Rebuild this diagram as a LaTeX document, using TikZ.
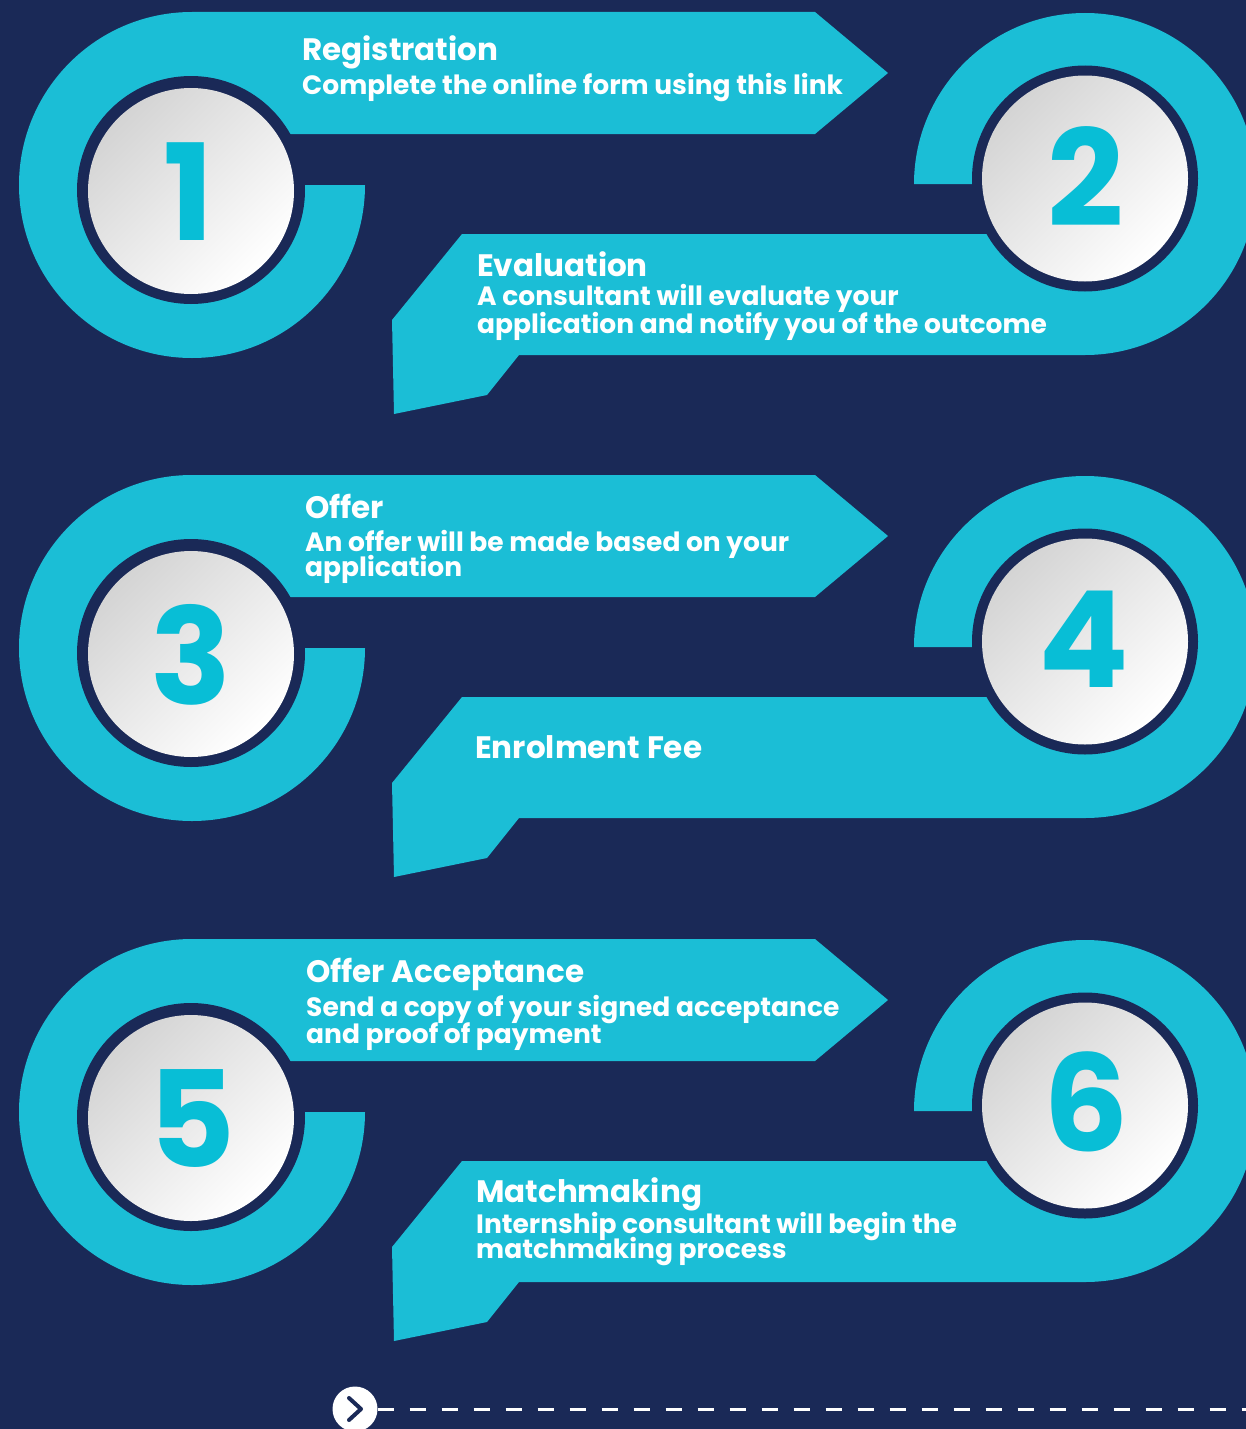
\documentclass[tikz,border=0pt]{standalone}
\usepackage{fontspec}
\setmainfont{Poppins}
\definecolor{navy}{RGB}{26,41,87}
\definecolor{cyanb}{RGB}{27,190,214}
\definecolor{numc}{RGB}{8,190,214}
\definecolor{shade1}{RGB}{212,212,212}
\begin{document}
\begin{tikzpicture}[x=1pt,y=1pt,
  darkdisc/.style={circle,fill=navy,inner sep=0pt,minimum size=#1},
  whitedisc/.style={circle,inner sep=0pt,minimum size=#1,top color=shade1,bottom color=white,shading angle=45},
  numtxt/.style={inner sep=0pt,text=numc,font=\fontsize{134}{134}\selectfont\bfseries},
  ttl/.style={anchor=base west,inner sep=0pt,text=white,font=\fontsize{31}{31}\selectfont\bfseries},
  sub/.style={anchor=base west,inner sep=0pt,text=white,font=\fontsize{26.5}{26.5}\selectfont\bfseries}]
\useasboundingbox (0,0) rectangle (1246,-1429);
\clip (0,0) rectangle (1246,-1429);
\fill[navy] (0,0) rectangle (1246,-1429);

% ---------- group 1 ----------
\begin{scope}
\fill[cyanb] (365,-185) arc[start angle=0,end angle=-270,radius=173pt] -- (815,-12) -- (888,-73) -- (815,-134) -- (192,-134) -- (192,-185) -- cycle;
\fill[cyanb] (914,-184) arc[start angle=180,end angle=-90,radius=171pt] -- (519,-355) -- (487,-395) -- (394,-414) -- (392,-320) -- (462,-234) -- (1085,-234) -- (1085,-184) -- cycle;
\node[darkdisc=228pt] (d1) at (191,-190) {};
\node[whitedisc=206pt] (w1) at (191,-191) {};
\node[numtxt] (n1) at (189,-192) {1};
\node[darkdisc=226pt] (d2) at (1085,-178.5) {};
\node[whitedisc=206pt] (w2) at (1085,-178.5) {};
\node[numtxt] (n2) at (1086,-177) {2};
\node[ttl] (t1) at (302,-61) {Registration};
\node[sub] (s1) at (302,-94) {Complete the online form using this link};
\node[ttl] (t2) at (477,-276) {Evaluation};
\node[sub] (s2a) at (477,-305) {A consultant will evaluate your};
\node[sub] (s2b) at (477,-333) {application and notify you of the outcome};
\end{scope}

% ---------- group 2 ----------
\begin{scope}[yshift=-463pt]
\fill[cyanb] (365,-185) arc[start angle=0,end angle=-270,radius=173pt] -- (815,-12) -- (888,-73) -- (815,-134) -- (192,-134) -- (192,-185) -- cycle;
\fill[cyanb] (914,-184) arc[start angle=180,end angle=-90,radius=171pt] -- (519,-355) -- (487,-395) -- (394,-414) -- (392,-320) -- (462,-234) -- (1085,-234) -- (1085,-184) -- cycle;
\node[darkdisc=228pt] (d3) at (191,-190) {};
\node[whitedisc=206pt] (w3) at (191,-191) {};
\node[numtxt] (n3) at (191,-192) {3};
\node[darkdisc=226pt] (d4) at (1085,-178.5) {};
\node[whitedisc=206pt] (w4) at (1085,-178.5) {};
\node[numtxt] (n4) at (1084,-176) {4};
\node[ttl] (t3) at (305,-55) {Offer};
\node[sub] (s3a) at (305,-88) {An offer will be made based on your};
\node[sub] (s3b) at (305,-113) {application};
\node[ttl] (t4) at (475,-295) {Enrolment Fee};
\end{scope}

% ---------- group 3 ----------
\begin{scope}[yshift=-927pt]
\fill[cyanb] (365,-185) arc[start angle=0,end angle=-270,radius=173pt] -- (815,-12) -- (888,-73) -- (815,-134) -- (192,-134) -- (192,-185) -- cycle;
\fill[cyanb] (914,-184) arc[start angle=180,end angle=-90,radius=171pt] -- (519,-355) -- (487,-395) -- (394,-414) -- (392,-320) -- (462,-234) -- (1085,-234) -- (1085,-184) -- cycle;
\node[darkdisc=228pt] (d5) at (191,-190) {};
\node[whitedisc=206pt] (w5) at (191,-191) {};
\node[numtxt] (n5) at (192,-192) {5};
\node[darkdisc=226pt] (d6) at (1085,-178.5) {};
\node[whitedisc=206pt] (w6) at (1085,-178.5) {};
\node[numtxt] (n6) at (1086,-175) {6};
\node[ttl] (t5) at (306,-55) {Offer Acceptance};
\node[sub] (s5a) at (306,-89) {Send a copy of your signed acceptance};
\node[sub] (s5b) at (306,-116) {and proof of payment};
\node[ttl] (t6) at (476,-275) {Matchmaking};
\node[sub] (s6a) at (476,-306) {Internship consultant will begin the};
\node[sub] (s6b) at (476,-331) {matchmaking process};
\end{scope}

% ---------- bottom ----------
\node[circle,fill=white,inner sep=0pt,minimum size=45pt] (btn) at (355,-1409) {};
\draw[navy,line width=4pt,line cap=round,line join=round] ([shift={(-6pt,11pt)}]btn.center) -- ([shift={(6pt,0pt)}]btn.center) -- ([shift={(-6pt,-11pt)}]btn.center);
\coordinate (dend) at (1246,-1409);
\draw[white,line width=3pt,dash pattern=on 16pt off 16pt] (btn.east) -- (dend);
\end{tikzpicture}
\end{document}
